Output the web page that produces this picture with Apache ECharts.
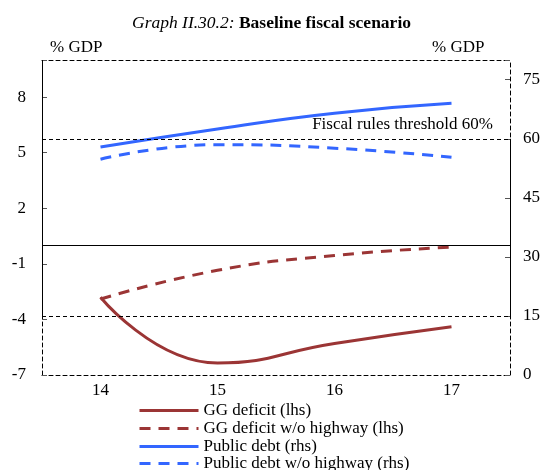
<!DOCTYPE html>
<html><head><meta charset="utf-8">
<script src="https://cdn.jsdelivr.net/npm/echarts@6/dist/echarts.min.js"></script>
<style>html,body{margin:0;padding:0;background:#fff}#c{width:543px;height:470px}</style>
</head><body><div id="c"></div>
<script>
// ---- data ----
const years = [14, 15, 16, 17];
const ggDeficit = [-2.8, -6.35, -5.3, -4.4];
const ggDeficitNoHighway = [-2.9, -1.35, -0.55, -0.1];
const publicDebt = [57.9, 62.5, 66.5, 69.0];
const publicDebtNoHighway = [54.8, 58.5, 57.6, 55.3];
const leftTicks = [-7, -4, -1, 2, 5, 8];
const rightTicks = [0, 15, 30, 45, 60, 75];
const xTicks = [14, 15, 16, 17];
const seriesNames = ['GG deficit (lhs)', 'GG deficit w/o highway (lhs)', 'Public debt (rhs)', 'Public debt w/o highway (rhs)'];
const thresholdValue = 60;
const lowerRefValue = 15;
const thresholdLabel = 'Fiscal rules threshold 60%';

// ---- styles ----
const FONT = "'Liberation Serif', 'Times New Roman', serif";
const RED = '#9b3535';
const BLUE = '#3366ff';
const DASH = [11, 8];
const BORDER_DASH = [4, 3];

const pair = arr => years.map((y, i) => [y, arr[i]]);
const xMin = 13.5, xMax = 17.5;

const legendTops = [402, 420, 438, 455];
const legends = seriesNames.map((n, i) => ({
  orient: 'vertical',
  left: 138, top: legendTops[i], padding: 0,
  itemWidth: 59, itemHeight: 12, itemGap: 0,
  itemStyle: { opacity: 0 },
  lineStyle: { width: 3 },
  textStyle: { fontFamily: FONT, fontSize: 17, color: '#000', lineHeight: 16 },
  data: [n]
}));

const chart = echarts.init(document.getElementById('c'));
chart.setOption({
  animation: false,
  backgroundColor: '#fff',
  title: {
    text: '{i|Graph II.30.2: }{b|Baseline fiscal scenario}',
    left: 'center', top: 9,
    textStyle: {
      fontWeight: 'normal',
      rich: {
        i: { fontFamily: FONT, fontSize: 17.5, fontStyle: 'italic', fontWeight: 'normal', color: '#000' },
        b: { fontFamily: FONT, fontSize: 17.5, fontWeight: 'bold', color: '#000' }
      }
    }
  },
  graphic: [
    { type: 'text', left: 50, top: 39, style: { text: '% GDP', font: '17px ' + FONT, fill: '#000' } },
    { type: 'text', left: 432, top: 39, style: { text: '% GDP', font: '17px ' + FONT, fill: '#000' } }
  ],
  legend: legends,
  grid: { left: 42, right: 33, top: 60, bottom: 95 },
  xAxis: [
    {
      type: 'value', min: xMin, max: xMax, interval: 0.5,
      axisLine: { onZero: false, lineStyle: { color: '#000', width: 1, type: BORDER_DASH } },
      axisTick: { show: false },
      splitLine: { show: false },
      axisLabel: {
        margin: 7, fontFamily: FONT, fontSize: 17, color: '#000',
        formatter: v => xTicks.includes(v) ? String(v) : ''
      }
    },
    {
      type: 'value', position: 'top', min: xMin, max: xMax, interval: 0.5,
      axisLine: { onZero: false, lineStyle: { color: '#000', width: 1, type: BORDER_DASH } },
      axisTick: { show: false }, splitLine: { show: false }, axisLabel: { show: false }
    }
  ],
  yAxis: [
    {
      type: 'value', min: -7, max: 10, interval: 3, position: 'left',
      axisLine: { show: true, onZero: false, lineStyle: { color: '#000', width: 1, type: BORDER_DASH } },
      axisTick: { show: true, inside: true, length: 5, lineStyle: { color: '#555' } },
      splitLine: { show: false },
      axisLabel: {
        margin: 16, fontFamily: FONT, fontSize: 17, color: '#000',
        formatter: v => leftTicks.includes(v) ? String(v) : ''
      }
    },
    {
      type: 'value', min: 0, max: 80, interval: 15, position: 'right',
      axisLine: { show: true, onZero: false, lineStyle: { color: '#000', width: 1, type: BORDER_DASH } },
      axisTick: { show: true, inside: true, length: 5, lineStyle: { color: '#555' } },
      splitLine: { show: false },
      axisLabel: {
        margin: 13, fontFamily: FONT, fontSize: 17, color: '#000',
        formatter: v => rightTicks.includes(v) ? String(v) : ''
      }
    }
  ],
  series: [
    {
      name: seriesNames[0], type: 'line', yAxisIndex: 0, smooth: 0.5, showSymbol: false, symbol: 'none',
      data: pair(ggDeficit), color: RED,
      lineStyle: { color: RED, width: 3, type: 'solid' },
      markLine: {
        silent: true, symbol: ['none', 'none'],
        label: { show: false },
        lineStyle: { color: '#000', width: 1, type: 'solid' },
        data: [{ yAxis: 0 }]
      }
    },
    {
      name: seriesNames[1], type: 'line', yAxisIndex: 0, smooth: 0.5, showSymbol: false, symbol: 'none',
      data: pair(ggDeficitNoHighway), color: RED,
      lineStyle: { color: RED, width: 3, type: DASH }
    },
    {
      name: seriesNames[2], type: 'line', yAxisIndex: 1, smooth: 0.5, showSymbol: false, symbol: 'none',
      data: pair(publicDebt), color: BLUE,
      lineStyle: { color: BLUE, width: 3, type: 'solid' },
      markLine: {
        silent: true, symbol: ['none', 'none'],
        label: { show: false },
        lineStyle: { color: '#000', width: 1, type: BORDER_DASH },
        data: [
          {
            yAxis: thresholdValue,
            label: {
              show: true, position: 'insideEndTop', formatter: thresholdLabel,
              fontFamily: FONT, fontSize: 17, color: '#000', distance: [17, 6]
            }
          },
          { yAxis: lowerRefValue },
          [
            { coord: [xMin, 80], lineStyle: { type: 'solid', color: '#000', width: 1 } },
            { coord: [xMin, lowerRefValue] }
          ],
          [
            { coord: [xMax, thresholdValue], lineStyle: { type: 'solid', color: '#000', width: 1 } },
            { coord: [xMax, lowerRefValue] }
          ]
        ]
      }
    },
    {
      name: seriesNames[3], type: 'line', yAxisIndex: 1, smooth: 0.5, showSymbol: false, symbol: 'none',
      data: pair(publicDebtNoHighway), color: BLUE,
      lineStyle: { color: BLUE, width: 3, type: DASH }
    }
  ]
});
</script>
</body></html>
